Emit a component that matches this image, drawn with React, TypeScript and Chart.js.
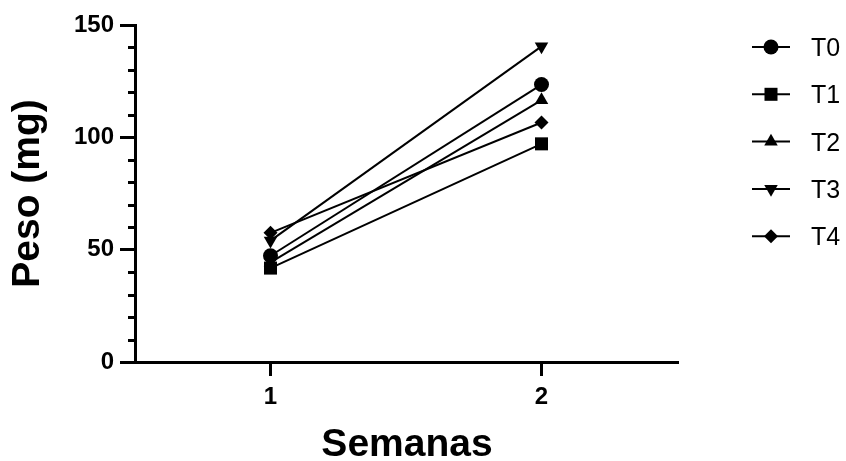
import React, { useEffect, useRef } from 'react';
import { Chart, registerables } from 'chart.js';
import { drawPoint } from 'chart.js/helpers';

Chart.register(...registerables);

// ---- data ----
const weeks = [1, 2];
const weekLabels = ['1', '2'];
const seriesNames = ['T0', 'T1', 'T2', 'T3', 'T4'];
const t0 = [47.3, 123.5];
const t1 = [41.8, 97.1];
const t2 = [44.3, 116.6];
const t3 = [54, 140.5];
const t4 = [57.5, 106.6];
const yMajorTicks = [0, 50, 100, 150];
const yMinorTicks = [10, 20, 30, 40, 60, 70, 80, 90, 110, 120, 130, 140];
const xTitle = 'Semanas';
const yTitle = 'Peso (mg)';

const FONT = '"Liberation Sans", Arial, Helvetica, sans-serif';

export default function App() {
  const ref = useRef<HTMLCanvasElement>(null);

  useEffect(() => {
    document.body.style.margin = '0';
    const values = [t0, t1, t2, t3, t4];
    const markers = [
      { pointStyle: 'circle', rotation: 0, radius: 7.5 },
      { pointStyle: 'rect', rotation: 0, radius: 9.2 },
      { pointStyle: 'triangle', rotation: 0, radius: 7.8 },
      { pointStyle: 'triangle', rotation: 180, radius: 7.8 },
      { pointStyle: 'rectRot', rotation: 0, radius: 7 },
    ];

    const decor = {
      id: 'decor',
      afterDraw(chart: any) {
        const ctx: CanvasRenderingContext2D = chart.ctx;
        const ys = chart.scales.y;
        const area = chart.chartArea;
        ctx.save();
        ctx.strokeStyle = '#000';
        ctx.fillStyle = '#000';
        // minor y ticks
        ctx.lineWidth = 3;
        yMinorTicks.forEach((v) => {
          const py = Math.round(ys.getPixelForValue(v)) + 0.5;
          ctx.beginPath();
          ctx.moveTo(area.left - 7, py);
          ctx.lineTo(area.left, py);
          ctx.stroke();
        });
        // axis titles
        ctx.font = `bold 39px ${FONT}`;
        ctx.textAlign = 'center';
        ctx.textBaseline = 'alphabetic';
        ctx.fillText(xTitle, (area.left + area.right) / 2 + 1, area.bottom + 94);
        ctx.save();
        ctx.translate(39, (area.top + area.bottom) / 2);
        ctx.rotate(-Math.PI / 2);
        ctx.fillText(yTitle, 0, 0);
        ctx.restore();
        // legend
        const lx = area.right + 75;
        seriesNames.forEach((name, i) => {
          const y = 47 + i * 47.3;
          ctx.lineWidth = 2;
          ctx.beginPath();
          ctx.moveTo(lx, y);
          ctx.lineTo(lx + 38, y);
          ctx.stroke();
          drawPoint(ctx, { ...markers[i], borderWidth: 0 } as any, lx + 19, y);
          ctx.font = `25px ${FONT}`;
          ctx.textAlign = 'left';
          ctx.textBaseline = 'alphabetic';
          ctx.fillText(name, lx + 59, y + 9);
        });
        ctx.restore();
      },
    };

    const tickFont = { family: FONT, size: 24, weight: 'bold' as const };

    const chart = new Chart(ref.current!, {
      type: 'line',
      data: {
        datasets: seriesNames.map((name, i) => ({
          label: name,
          data: weeks.map((w, j) => ({ x: w, y: values[i][j] })),
          borderColor: '#000',
          borderWidth: 2,
          backgroundColor: '#000',
          pointBackgroundColor: '#000',
          pointBorderWidth: 0,
          pointStyle: markers[i].pointStyle as any,
          pointRotation: markers[i].rotation,
          pointRadius: markers[i].radius,
          pointHoverRadius: markers[i].radius,
          fill: false,
          tension: 0,
          clip: false as any,
        })),
      },
      options: {
        responsive: false,
        animation: false,
        devicePixelRatio: 1,
        layout: { padding: { top: 25, right: 169, left: 0, bottom: 0 } },
        plugins: { legend: { display: false }, tooltip: { enabled: false } },
        scales: {
          x: {
            type: 'linear',
            min: 0.5,
            max: 2.5,
            afterBuildTicks: (s: any) => {
              s.ticks = weeks.map((v) => ({ value: v }));
            },
            afterFit: (s: any) => {
              s.height = 99;
            },
            ticks: {
              callback: (v: any) => weekLabels[weeks.indexOf(Number(v))] ?? '',
              font: tickFont,
              color: '#000',
              padding: 7,
              maxRotation: 0,
              autoSkip: false,
            },
            grid: {
              display: true,
              drawOnChartArea: false,
              drawTicks: true,
              tickLength: 14,
              tickWidth: 3,
              tickColor: '#000',
              color: '#000',
              lineWidth: 3,
            },
            border: { display: true, width: 3, color: '#000' },
          },
          y: {
            type: 'linear',
            min: 0,
            max: 150,
            afterBuildTicks: (s: any) => {
              s.ticks = yMajorTicks.map((v) => ({ value: v }));
            },
            afterFit: (s: any) => {
              s.width = 135;
            },
            ticks: {
              font: tickFont,
              color: '#000',
              padding: 6,
              autoSkip: false,
            },
            grid: {
              display: true,
              drawOnChartArea: false,
              drawTicks: true,
              tickLength: 15,
              tickWidth: 3,
              tickColor: '#000',
              color: '#000',
              lineWidth: 3,
            },
            border: { display: true, width: 3, color: '#000' },
          },
        },
      },
      plugins: [decor],
    });
    return () => chart.destroy();
  }, []);

  return (
    <div style={{ width: 846, height: 461, background: '#fff' }}>
      <canvas ref={ref} width={846} height={461} style={{ display: 'block', width: 846, height: 461 }} />
    </div>
  );
}
